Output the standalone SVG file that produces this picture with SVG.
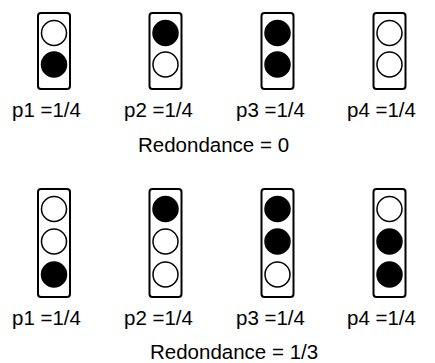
<svg xmlns="http://www.w3.org/2000/svg" width="435" height="363" viewBox="0 0 435 363">
<style>
.box{fill:#fff;stroke:#000;stroke-width:2}
.on{fill:#000;stroke:#000;stroke-width:1.5}
.off{fill:#fff;stroke:#000;stroke-width:1.5}
text{font-family:"Liberation Sans",Arial,sans-serif;font-size:20.5px;fill:#000}
</style>
<rect width="435" height="363" fill="#fff"/>
<g id="connectors"/>
<g id="top-row">
<g id="t1"><rect class="box" x="38" y="13" width="32" height="76" rx="3"/><circle class="off" cx="54" cy="33" r="12.5"/><circle class="on" cx="54" cy="64.5" r="12.5"/><text x="12" y="117">p1 =1/4</text></g>
<g id="t2"><rect class="box" x="149.5" y="13" width="32" height="76" rx="3"/><circle class="on" cx="165.5" cy="33" r="12.5"/><circle class="off" cx="165.5" cy="64.5" r="12.5"/><text x="124" y="117">p2 =1/4</text></g>
<g id="t3"><rect class="box" x="261.5" y="13" width="32" height="76" rx="3"/><circle class="on" cx="277.5" cy="33" r="12.5"/><circle class="on" cx="277.5" cy="64.5" r="12.5"/><text x="236" y="117">p3 =1/4</text></g>
<g id="t4"><rect class="box" x="373.5" y="13" width="32" height="76" rx="3"/><circle class="off" cx="389.5" cy="33" r="12.5"/><circle class="off" cx="389.5" cy="64.5" r="12.5"/><text x="347" y="117">p4 =1/4</text></g>
<text id="r0" x="138" y="152">Redondance = 0</text>
</g>
<g id="bottom-row">
<g id="b1"><rect class="box" x="38" y="189" width="32" height="108" rx="3"/><circle class="off" cx="54" cy="209" r="12.5"/><circle class="off" cx="54" cy="241.5" r="12.5"/><circle class="on" cx="54" cy="274.5" r="12.5"/><text x="12" y="325">p1 =1/4</text></g>
<g id="b2"><rect class="box" x="149.5" y="189" width="32" height="108" rx="3"/><circle class="on" cx="165.5" cy="209" r="12.5"/><circle class="off" cx="165.5" cy="241.5" r="12.5"/><circle class="off" cx="165.5" cy="274.5" r="12.5"/><text x="124" y="325">p2 =1/4</text></g>
<g id="b3"><rect class="box" x="261.5" y="189" width="32" height="108" rx="3"/><circle class="on" cx="277.5" cy="209" r="12.5"/><circle class="on" cx="277.5" cy="241.5" r="12.5"/><circle class="off" cx="277.5" cy="274.5" r="12.5"/><text x="236" y="325">p3 =1/4</text></g>
<g id="b4"><rect class="box" x="373.5" y="189" width="32" height="108" rx="3"/><circle class="off" cx="389.5" cy="209" r="12.5"/><circle class="on" cx="389.5" cy="241.5" r="12.5"/><circle class="on" cx="389.5" cy="274.5" r="12.5"/><text x="347" y="325">p4 =1/4</text></g>
<text id="r1" x="150" y="359">Redondance = 1/3</text>
</g>
</svg>
